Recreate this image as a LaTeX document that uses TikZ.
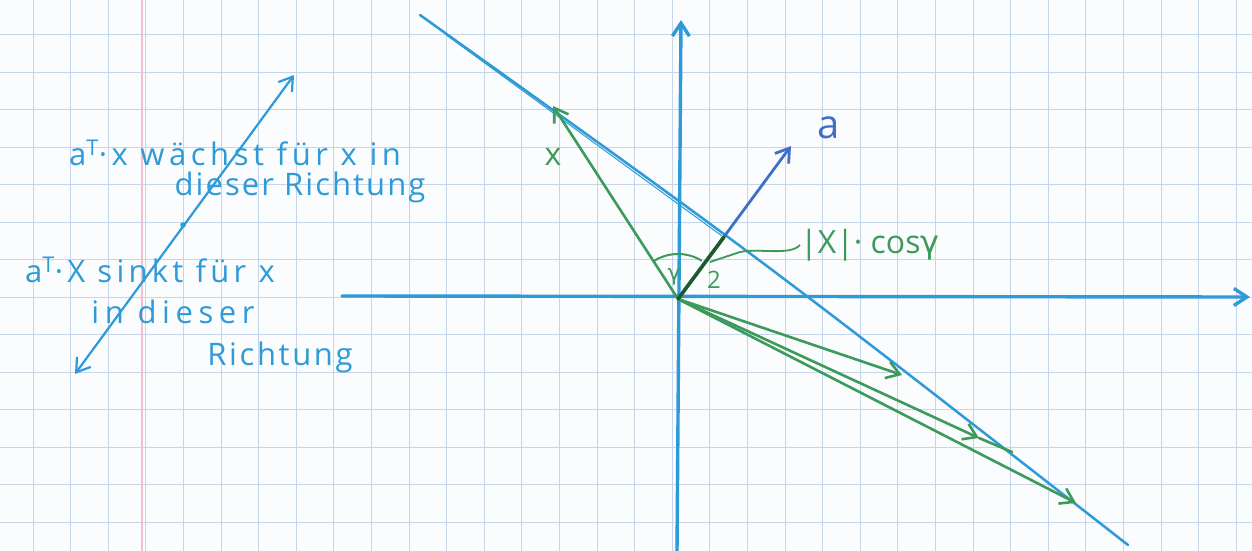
\documentclass[tikz,border=0pt]{standalone}
\usepackage{fontspec}
\setmainfont{Open Sans}
\newfontfamily\gfont{DejaVu Sans}
\usetikzlibrary{arrows.meta}
\definecolor{paper}{HTML}{FBFCFD}
\definecolor{gridc}{HTML}{C6D5EA}
\definecolor{marg}{HTML}{F2BFD2}
\definecolor{pen}{HTML}{2E9AD8}
\definecolor{penA}{HTML}{3F70C8}
\definecolor{grn}{HTML}{3C9A5A}
\definecolor{dgrn}{HTML}{1F5A2D}
\tikzset{
  gridline/.style={gridc, line width=1pt},
  margline/.style={marg, line width=2pt},
  axis/.style={pen, line width=3.4pt, line cap=round, line join=round},
  hyper/.style={pen, line width=2.5pt, line cap=round},
  vecA/.style={penA, line width=2.8pt, line cap=round, line join=round},
  vecX/.style={grn, line width=2.6pt, line cap=round, line join=round},
  proj/.style={dgrn, line width=3.6pt, line cap=round},
  bluetext/.style={pen, font=\fontsize{31}{36}\selectfont, inner sep=0pt},
  greentext/.style={grn, font=\fontsize{32}{36}\selectfont, inner sep=0pt},
  >={Straight Barb[length=13pt,width=17pt]}
}
\begin{document}
\begin{tikzpicture}[x=1pt,y=-1pt]
\useasboundingbox (0,0) rectangle (1252,551);
\fill[paper] (0,0) rectangle (1252,551);
% graph paper
\foreach \i in {0,...,32} \draw[gridline] ({33+37.6*\i},0) -- ({33+37.6*\i},551);
\foreach \k in {-7,...,6} \draw[gridline] (0,{297+37.5*\k}) -- (1252,{297+37.5*\k});
\draw[margline] (141.5,0) -- (141.5,551);
% points
\coordinate (O) at (678,299);
\coordinate (xs) at (342,296);
\coordinate (xe) at (1250,297);
\coordinate (ys) at (677,551);
\coordinate (ye) at (681,20);
\coordinate (h1) at (420,15);
\coordinate (hc) at (760,258);
\coordinate (h2) at (1128,545);
\coordinate (h3) at (445,34);
\coordinate (h4) at (722,236);
\coordinate (A) at (791,146);
\coordinate (X) at (553,106);
\coordinate (P) at (724,237);
\coordinate (B1) at (902,375);
\coordinate (B2) at (979,438);
\coordinate (B2e) at (1012,452);
\coordinate (B3) at (1076,503);
\coordinate (L1) at (75,374);
\coordinate (L2) at (294,75);
\coordinate (Ld) at (183,225);
\coordinate (Lend) at (710,262);
% axes
\draw[axis,->] (xs) -- (xe);
\draw[axis,->] (ys) -- (ye);
% hyperplane
\draw[hyper] (h1) .. controls (hc) .. (h2);
\draw[pen, line width=1pt] (h3) -- (h4);
% vectors
\draw[vecA,->] (O) -- (A);
\node[penA, font=\fontsize{40}{44}\selectfont, inner sep=0pt] (la) at (829,128) {a};
\draw[vecX,->] (O) -- (X);
\node[greentext] (lx) at (553,157) {x};
\draw[vecX,->] (O) -- (B1);
\draw[vecX,->] (O) -- (B2);
\draw[vecX] (B2) -- (B2e);
\draw[vecX,->] (O) -- (B3);
\draw[proj] (O) -- (P);
% angle
\draw[grn, line width=2pt] ([shift={(122:45pt)}]O) arc[start angle=122, end angle=58, radius=45pt];
\node[grn, font=\gfont\fontsize{22}{24}\selectfont, inner sep=0pt] (lg) at (674,277) {γ};
\node[grn, font=\fontsize{24}{26}\selectfont, inner sep=0pt] (l2) at (714,280) {2};
% projection label
\node[greentext, anchor=west] (lp) at (800,245) {|X|· cos{\gfont γ}};
\draw[grn, line width=1.8pt] (lp.west) .. controls (790,256) and (760,248) .. (740,252) -- (Lend);
% left sketch
\draw[pen, line width=2.2pt, <->] (L1) -- (L2);
\fill[pen] (Ld) circle (2.8pt);
\node[bluetext, anchor=base] (t1) at (235,165) {\addfontfeature{LetterSpace=14.7}a\textsuperscript{T}·x wächst für x in};
\node[bluetext, anchor=base] (t2) at (300,195) {\addfontfeature{LetterSpace=6.7}dieser Richtung};
\node[bluetext, anchor=base] (t3) at (150,282) {\addfontfeature{LetterSpace=13.7}a\textsuperscript{T}·X sinkt für x};
\node[bluetext, anchor=base] (t4) at (173,323) {\addfontfeature{LetterSpace=18}in dieser};
\node[bluetext, anchor=base] (t5) at (280,365) {\addfontfeature{LetterSpace=8.5}Richtung};
\end{tikzpicture}
\end{document}
